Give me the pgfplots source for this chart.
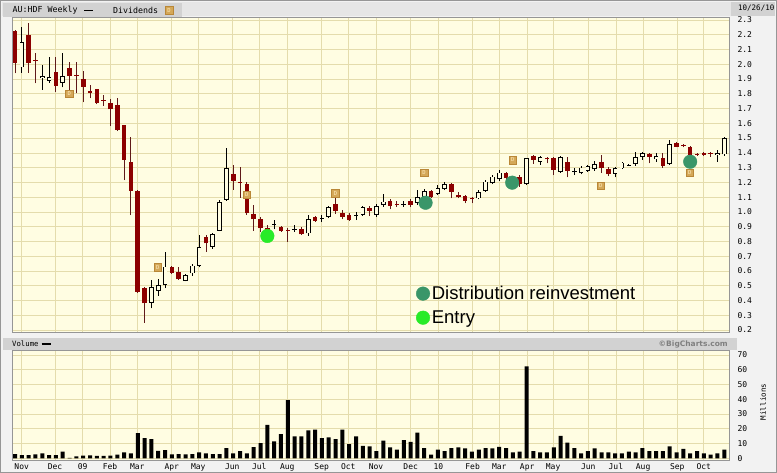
\documentclass[border=0pt]{standalone}
\usepackage{fontspec}
\setmainfont{Liberation Sans}
\newfontfamily\monof{DejaVu Sans Mono}
\newfontfamily\boldf{DejaVu Sans}
\usepackage{pgfplots}
\usepackage{pgfplotstable}
\pgfplotsset{compat=1.18}

\definecolor{cream}{RGB}{255,253,226}
\definecolor{gridc}{RGB}{228,220,172}
\definecolor{cred}{RGB}{140,0,0}
\definecolor{wickred}{RGB}{95,25,25}
\definecolor{bgout}{RGB}{242,242,242}
\definecolor{hlight}{RGB}{230,230,230}
\definecolor{hdark}{RGB}{210,210,210}
\definecolor{bordc}{RGB}{150,150,150}
\definecolor{dtan}{RGB}{212,168,88}
\definecolor{dtanb}{RGB}{185,135,55}
\definecolor{dlet}{RGB}{255,236,190}
\definecolor{distg}{RGB}{58,150,105}
\definecolor{entryg}{RGB}{40,235,40}

\pgfdeclareplotmark{divD}{%
  \pgfpathrectangle{\pgfqpoint{-3.8pt}{-3.8pt}}{\pgfqpoint{7.6pt}{7.6pt}}%
  \pgfsetfillcolor{dtan}\pgfsetstrokecolor{dtanb}\pgfsetlinewidth{0.5pt}%
  \pgfusepathqfillstroke
  \pgftext{\color{dlet}\fontsize{5.5}{5.5}\selectfont\monof D}}

\pgfplotstableread{
i o h l c
0 2.226 2.230 1.939 2.011
1 1.979 2.250 1.943 2.153
2 2.198 2.277 1.943 2.011
3 2.030 2.074 1.871 2.024
4 1.905 1.993 1.826 1.921
5 1.889 2.047 1.876 1.912
6 1.948 2.047 1.815 1.853
7 1.876 2.074 1.844 1.921
8 1.977 2.013 1.826 1.921
9 1.928 2.013 1.803 1.922
10 1.898 1.957 1.742 1.849
11 1.817 1.860 1.770 1.808
12 1.830 1.836 1.731 1.740
13 1.761 1.790 1.718 1.755
14 1.736 1.767 1.582 1.695
15 1.722 1.772 1.548 1.555
16 1.587 1.590 1.216 1.352
17 1.336 1.506 0.979 1.142
18 1.144 1.150 0.450 0.459
19 0.483 0.490 0.249 0.381
20 0.385 0.539 0.347 0.489
21 0.466 0.543 0.432 0.505
22 0.505 0.730 0.483 0.629
23 0.629 0.636 0.580 0.588
24 0.595 0.629 0.540 0.543
25 0.534 0.580 0.530 0.573
26 0.584 0.648 0.567 0.636
27 0.634 0.844 0.625 0.764
28 0.832 0.844 0.730 0.787
29 0.764 0.857 0.750 0.850
30 0.873 1.080 0.870 1.065
31 1.081 1.431 1.075 1.295
32 1.260 1.318 1.149 1.210
33 1.203 1.306 1.095 1.197
34 1.190 1.200 0.980 0.990
35 0.985 1.047 0.873 0.950
36 0.952 0.965 0.862 0.889
37 0.889 0.910 0.857 0.873
38 0.913 0.943 0.882 0.919
39 0.900 0.905 0.866 0.873
40 0.880 0.889 0.798 0.874
41 0.879 0.910 0.864 0.885
42 0.884 0.900 0.844 0.848
43 0.855 0.977 0.838 0.950
44 0.964 0.972 0.934 0.940
45 0.952 0.981 0.930 0.962
46 0.968 1.040 0.957 1.031
47 1.052 1.099 0.986 1.006
48 0.995 1.013 0.950 0.968
49 0.979 0.990 0.940 0.945
50 0.971 1.000 0.945 0.977
51 0.979 1.042 0.972 1.031
52 1.024 1.040 0.972 1.008
53 0.979 1.052 0.968 1.040
54 1.047 1.121 1.036 1.070
55 1.074 1.085 1.017 1.040
56 1.055 1.074 1.036 1.049
57 1.049 1.074 1.036 1.055
58 1.074 1.088 1.031 1.047
59 1.063 1.148 1.047 1.099
60 1.099 1.155 1.060 1.142
61 1.142 1.148 1.092 1.099
62 1.121 1.182 1.115 1.160
63 1.155 1.205 1.148 1.189
64 1.187 1.194 1.092 1.137
65 1.115 1.137 1.092 1.099
66 1.108 1.115 1.058 1.074
67 1.091 1.103 1.058 1.085
68 1.092 1.148 1.085 1.137
69 1.144 1.216 1.137 1.205
70 1.194 1.250 1.189 1.239
71 1.221 1.284 1.212 1.266
72 1.262 1.273 1.216 1.228
73 1.200 1.245 1.185 1.225
74 1.234 1.250 1.171 1.189
75 1.189 1.367 1.182 1.363
76 1.381 1.386 1.325 1.352
77 1.340 1.379 1.318 1.374
78 1.362 1.370 1.329 1.356
79 1.363 1.370 1.250 1.284
80 1.273 1.381 1.265 1.374
81 1.340 1.374 1.234 1.280
82 1.270 1.295 1.250 1.276
83 1.262 1.311 1.255 1.300
84 1.279 1.318 1.273 1.311
85 1.289 1.347 1.279 1.323
86 1.340 1.384 1.262 1.295
87 1.291 1.302 1.243 1.255
88 1.257 1.306 1.234 1.295
89 1.295 1.340 1.290 1.334
90 1.315 1.325 1.314 1.321
91 1.323 1.404 1.313 1.374
92 1.374 1.404 1.352 1.397
93 1.390 1.401 1.329 1.374
94 1.356 1.397 1.340 1.379
95 1.363 1.397 1.300 1.311
96 1.323 1.487 1.318 1.460
97 1.469 1.476 1.438 1.442
98 1.452 1.458 1.438 1.446
99 1.438 1.445 1.360 1.386
100 1.393 1.401 1.379 1.387
101 1.401 1.408 1.379 1.386
102 1.400 1.408 1.374 1.394
103 1.386 1.420 1.340 1.401
104 1.390 1.510 1.379 1.499
}\candles

\pgfplotstableread{
i v
0 2.9
1 2.2
2 2.2
3 2.7
4 3.4
5 2.2
6 2.2
7 4.5
8 0.3
9 1.3
10 1.8
11 2.0
12 1.6
13 1.6
14 1.8
15 2.5
16 4.0
17 3.4
18 17.0
19 13.6
20 13.0
21 5.1
22 5.6
23 2.7
24 2.9
25 2.7
26 2.9
27 4.0
28 3.4
29 2.9
30 2.9
31 6.9
32 3.4
33 4.9
34 3.4
35 7.6
36 10.3
37 22.6
38 11.4
39 16.3
40 39.4
41 14.8
42 14.8
43 19.0
44 19.5
45 13.6
46 14.1
47 13.0
48 19.5
49 9.6
50 14.8
51 8.5
52 8.1
53 4.9
54 11.9
55 7.4
56 5.8
57 12.3
58 11.2
59 17.4
60 6.9
61 2.5
62 5.8
63 4.9
64 6.9
65 7.4
66 6.7
67 4.5
68 5.8
69 6.9
70 6.7
71 7.8
72 6.9
73 4.0
74 4.5
75 62.2
76 4.9
77 4.0
78 4.0
79 7.4
80 15.2
81 10.7
82 6.9
83 3.4
84 4.9
85 6.7
86 4.0
87 4.0
88 3.4
89 3.4
90 4.5
91 4.0
92 6.9
93 4.9
94 4.9
95 4.9
96 8.1
97 4.0
98 6.3
99 3.4
100 4.9
101 3.4
102 2.5
103 3.4
104 5.8
}\vols

\def\monthticks{0.98,5.87,9.93,13.93,17.93,22.98,26.88,31.86,35.82,39.93,44.97,48.87,52.93,58.02,62.07,67.1,71.0,75.1,78.9,84.06,88.1,92.1,97.1,101.0}

\pgfplotsset{
  chartbase/.style={
    anchor=south west, scale only axis, width=717pt,
    xmin=-0.44, xmax=104.69,
    axis background/.style={fill=cream},
    grid=major, major grid style={gridc, line width=0.7pt},
    major tick length=0pt,
    axis line style={bordc, line width=0.8pt},
    yticklabel pos=right,
    ticklabel style={font=\monof\fontsize{8}{9}\selectfont},
    yticklabel style={xshift=5pt, /pgf/number format/assume math mode=true},
    xticklabel style={/pgf/number format/assume math mode=true},
    xtick/.expanded={\monthticks},
  },
  candlebar/.style n args={2}{/pgfplots/forget plot, /tikz/draw=none, /tikz/mark=none,
    /pgfplots/error bars/y dir=plus, /pgfplots/error bars/y explicit,
    /pgfplots/error bars/error mark=none,
    /pgfplots/error bars/error bar style={line width=#1, draw=#2, color=#2}},
}

\begin{document}
\begin{tikzpicture}[x=1pt,y=1pt]
\useasboundingbox (0,0) rectangle (777,473);
\fill[bgout] (0,0) rectangle (777,473);
\draw[bordc, line width=0.8pt] (0.4,0.4) rectangle (776.6,472.6);
% header strip
\fill[hlight] (2,457) rectangle (775,471);
\fill[hdark] (3,456) rectangle (182,470);
\fill[hdark] (731,457) rectangle (775,471);
\node[anchor=west, inner sep=0pt, font=\monof\fontsize{8.3}{9}\selectfont] at (12.5,462.5) {AU:HDF Weekly};
\draw[black, line width=1.8pt] (84,462.5) -- (93,462.5);
\node[anchor=west, inner sep=0pt, font=\monof\fontsize{8.3}{9}\selectfont] at (113,462.5) {Dividends};
\draw[fill=dtan, draw=dtanb, line width=0.5pt] (165,458.5) rectangle (173,466.5);
\node[inner sep=0pt, text=dlet, font=\monof\fontsize{5.5}{5.5}\selectfont] at (169,462.5) {D};
\node[anchor=east, inner sep=0pt, font=\monof\fontsize{7.5}{8}\selectfont] at (774.5,464.5) {10/26/10};
% volume header band
\fill[hdark] (3,123) rectangle (737,135);
\node[anchor=west, inner sep=0pt, font=\monof\fontsize{7.3}{8}\selectfont] at (12,128.8) {Volume};
\draw[black, line width=1.8pt] (41.5,128.8) -- (51,128.8);
\node[anchor=east, inner sep=0pt, text=gray, font=\boldf\bfseries\fontsize{7.5}{8}\selectfont] at (728,128.8) {\textcopyright BigCharts.com};
\node[rotate=90, inner sep=0pt, font=\monof\fontsize{7.5}{8}\selectfont] at (763,71) {Millions};

% price panel
\begin{axis}[chartbase,
  at={(12pt,141pt)}, height=315pt,
  ymin=0.1865, ymax=2.3205,
  xticklabels={},
  ytick={0.2,0.3,0.4,0.5,0.6,0.7,0.8,0.9,1.0,1.1,1.2,1.3,1.4,1.5,1.6,1.7,1.8,1.9,2.0,2.1,2.2,2.3},
  yticklabel style={/pgf/number format/.cd, fixed, fixed zerofill, precision=1},
  legend style={at={(0.5635,0.1524)}, anchor=north west, draw=none, fill=none,
    font=\fontsize{18.5}{20}\selectfont, row sep=5.5pt, inner sep=0pt, legend cell align=left},
]
% wicks
\addplot[restrict expr to domain={\thisrow{o}-\thisrow{c}}{0.0001:10},
  candlebar={0.9pt}{wickred}]
  table[x=i, y=l, y error expr=\thisrow{h}-\thisrow{l}] {\candles};
\addplot[restrict expr to domain={\thisrow{c}-\thisrow{o}}{0:10},
  candlebar={0.9pt}{black}]
  table[x=i, y=l, y error expr=\thisrow{h}-\thisrow{l}] {\candles};
% red bodies
\addplot[restrict expr to domain={\thisrow{o}-\thisrow{c}}{0.0001:10},
  candlebar={4.6pt}{cred}]
  table[x=i, y=c, y error expr=\thisrow{o}-\thisrow{c}] {\candles};
% hollow bodies
\addplot[restrict expr to domain={\thisrow{c}-\thisrow{o}}{0:10},
  candlebar={4.6pt}{black}]
  table[x=i, y=o, y error expr=\thisrow{c}-\thisrow{o}] {\candles};
\addplot[restrict expr to domain={\thisrow{c}-\thisrow{o}}{0:10},
  candlebar={3.0pt}{cream}]
  table[x=i, y expr=\thisrow{o}+0.0055, y error expr={max(\thisrow{c}-\thisrow{o}-0.011,0)}] {\candles};
% dividends
\addplot[forget plot, only marks, mark=divD] coordinates {
(7.96,1.801) (20.92,0.625) (34.0,1.115) (47.0,1.128) (59.97,1.264) (72.98,1.352) (85.88,1.176) (98.93,1.266)};
% markers
\addplot[only marks, mark=*, mark size=6.8pt, color=distg] coordinates {(60.2,1.062) (72.9,1.198) (99.0,1.34)};
\addlegendentry{Distribution reinvestment}
\addplot[only marks, mark=*, mark size=6.8pt, color=entryg] coordinates {(37.0,0.837)};
\addlegendentry{Entry}
\end{axis}

% volume panel
\begin{axis}[chartbase,
  at={(12pt,13pt)}, height=110pt,
  ymin=-1.15, ymax=73.37,
  xticklabels={Nov,Dec,09,Feb,Mar,Apr,May,Jun,Jul,Aug,Sep,Oct,Nov,Dec,10,Feb,Mar,Apr,May,Jun,Jul,Aug,Sep,Oct},
  ytick={0,10,20,30,40,50,60,70},
]
\addplot[ybar, bar width=4pt, fill=black, draw=none] table[x=i, y=v] {\vols};
\end{axis}
\end{tikzpicture}
\end{document}
